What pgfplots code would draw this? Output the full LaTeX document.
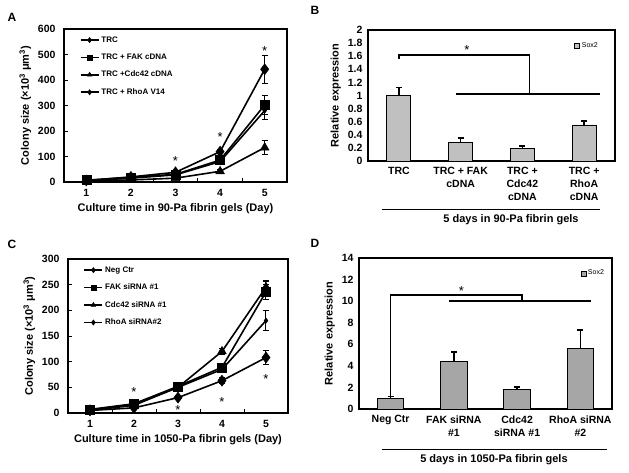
\documentclass[border=0pt]{standalone}
\usepackage{pgfplots}
\pgfplotsset{compat=1.18}
\usepackage{fontspec}
\setmainfont{Liberation Sans}
\definecolor{barB}{RGB}{192,192,192}
\definecolor{barD}{RGB}{166,166,166}
\pgfplotsset{
  base/.style={scale only axis, clip=false,
    axis line style={line width=1.2pt},
    tick label style={font=\fontsize{10.5}{13}\selectfont\bfseries},
    label style={font=\fontsize{11}{13}\selectfont\bfseries},
    /pgf/number format/assume math mode=true,
    xtick pos=bottom, ytick pos=left},
  linechart/.style={base, xmin=0.5, xmax=5.5, xtick={1,...,5},
    major x tick style={draw=none},
    minor xtick={1.5,2.5,3.5,4.5},
    tick align=inside, major tick length=4pt, minor tick length=4pt,
    tick style={line width=0.8pt, black},
    yticklabel style={xshift=-5pt}, xticklabel style={yshift=-4pt},
    legend style={draw=none, fill=none, at={(0.07,0.965)}, anchor=north west,
      font=\fontsize{8}{9}\selectfont\bfseries, row sep=6.2pt, inner sep=0pt},
    legend cell align=left,
    legend image code/.code={\draw[##1, mark=none] (0pt,0pt) -- (18pt,0pt);
      \draw[##1, mark size=2.6pt, solid] plot coordinates {(9pt,0pt)};}},
  ser/.style={black, line width=1.6pt, mark options={fill=black, solid, line width=0.5pt},
    error bars/y dir=both, error bars/y explicit,
    error bars/error bar style={line width=1pt},
    error bars/error mark options={rotate=90, mark size=3pt, line width=1.2pt}},
  barchart/.style={base, ybar, xmin=-0.5, xmax=3.5, xtick={0,1,2,3},
    axis line style={line width=1.6pt},
    major tick length=0pt, ymin=0,
    xticklabel style={align=center, yshift=-3pt},
    yticklabel style={xshift=-2pt},
    legend style={draw=none, fill=none, font=\fontsize{7}{8}\selectfont, inner sep=0pt},
    legend image code/.code={\draw[##1, draw=black, line width=0.4pt] (0pt,-2.5pt) rectangle (5pt,2.5pt);}},
  bars/.style={draw=black, line width=0.8pt,
    error bars/y dir=plus, error bars/y explicit,
    error bars/error bar style={line width=1.6pt},
    error bars/error mark options={rotate=90, mark size=3pt, line width=1.6pt}},
}
\begin{document}
\begin{tikzpicture}[x=1pt,y=1pt]
\path[use as bounding box] (0,0) rectangle (629,-472);
\node[font=\fontsize{12}{14}\selectfont\bfseries] at (12,-17) {A};
\node[font=\fontsize{12}{14}\selectfont\bfseries] at (315,-10) {B};
\node[font=\fontsize{12}{14}\selectfont\bfseries] at (12,-244) {C};
\node[font=\fontsize{12}{14}\selectfont\bfseries] at (315,-243) {D};

% Panel A
\begin{axis}[linechart, at={(64pt,-29pt)}, anchor=north west, width=223pt, height=153pt,
  ymin=0, ymax=600, ytick={0,100,...,600},
  xlabel={Culture time in 90-Pa fibrin gels (Day)},
  ylabel={Colony size (×10\textsuperscript{3} μm\textsuperscript{3})}]
\addplot[ser, mark=diamond*, mark size=2.6pt] table[x=x,y=y,y error=e] {
x y e
1 5 2
2 15 3
3 28 5
4 80 8
5 280 36
};
\addlegendentry{TRC}
\addplot[ser, mark=square*, mark size=4.5pt] table[x=x,y=y,y error=e] {
x y e
1 7 2
2 18 3
3 30 5
4 86 10
5 302 38
};
\addlegendentry{TRC + FAK cDNA}
\addplot[ser, mark=triangle*, mark size=5pt] table[x=x,y=y,y error=e] {
x y e
1 4 1
2 8 2
3 15 3
4 42 6
5 135 27
};
\addlegendentry{TRC +Cdc42 cDNA}
\addplot[ser, mark=diamond*, mark size=5.5pt] table[x=x,y=y,y error=e] {
x y e
1 6 2
2 20 3
3 38 5
4 119 8
5 442 55
};
\addlegendentry{TRC + RhoA V14}
\node[font=\fontsize{13}{14}\selectfont] at (axis cs:3,82) {*};
\node[font=\fontsize{13}{14}\selectfont] at (axis cs:4,176) {*};
\node[font=\fontsize{13}{14}\selectfont] at (axis cs:5,514) {*};
\end{axis}

% Panel B
\begin{axis}[barchart, at={(368pt,-30pt)}, anchor=north west, width=247pt, height=131pt,
  ymax=2, ytick={0,0.2,...,2.01},
  yticklabel={\pgfmathprintnumber[fixed,precision=1]{\tick}},
  xticklabels={TRC, {TRC + FAK\\cDNA}, {TRC +\\Cdc42\\cDNA}, {TRC +\\RhoA\\cDNA}},
  ylabel={Relative expression},
  legend style={at={(0.835,0.878)}, anchor=west}]
\addplot[bars, fill=barB, bar width=24pt] table[x=x,y=y,y error=e] {
x y e
0 1.00 0.12
1 0.28 0.07
2 0.19 0.04
3 0.55 0.06
};
\addlegendentry{Sox2}
\draw[line width=1.4pt] (axis cs:0,1.56) -- (axis cs:0,1.62) -- (axis cs:2.12,1.62) -- (axis cs:2.12,1.02);
\draw[line width=1.4pt] (axis cs:0.92,1.02) -- (axis cs:3.26,1.02);
\node[font=\fontsize{13}{14}\selectfont] at (axis cs:1.1,1.70) {*};
\end{axis}
\draw[line width=1pt] (381.7,-209) -- (600,-209);
\node[font=\fontsize{11}{13}\selectfont\bfseries] at (511,-220) {5 days in 90-Pa fibrin gels};

% Panel C
\begin{axis}[linechart, at={(68pt,-259pt)}, anchor=north west, width=220pt, height=154pt,
  ymin=0, ymax=300, ytick={0,50,...,300},
  xlabel={Culture time in 1050-Pa fibrin gels (Day)},
  ylabel={Colony size (×10\textsuperscript{3} μm\textsuperscript{3})}]
\addplot[ser, mark=diamond*, mark size=2.6pt] table[x=x,y=y,y error=e] {
x y e
1 5 1
2 15 2
3 50 3
4 85 6
5 180 19
};
\addlegendentry{Neg Ctr}
\addplot[ser, mark=square*, mark size=4.5pt] table[x=x,y=y,y error=e] {
x y e
1 7 1
2 18 2
3 52 3
4 89 7
5 236 15
};
\addlegendentry{FAK siRNA \#1}
\addplot[ser, mark=triangle*, mark size=5pt] table[x=x,y=y,y error=e] {
x y e
1 6 1
2 17 2
3 50 3
4 120 6
5 245 12
};
\addlegendentry{Cdc42 siRNA \#1}
\addplot[ser, mark=diamond*, mark size=5.5pt] table[x=x,y=y,y error=e] {
x y e
1 5 1
2 10 2
3 30 3
4 63 6
5 108 14
};
\addlegendentry{RhoA siRNA\#2}
\node[font=\fontsize{13}{14}\selectfont] at (axis cs:2,41) {*};
\node[font=\fontsize{13}{14}\selectfont] at (axis cs:3,6) {*};
\node[font=\fontsize{13}{14}\selectfont] at (axis cs:4,21) {*};
\node[font=\fontsize{13}{14}\selectfont] at (axis cs:5,66) {*};
\end{axis}

% Panel D
\begin{axis}[barchart, at={(359pt,-258pt)}, anchor=north west, width=253pt, height=151pt,
  ymax=14, ytick={0,2,...,14},
  xticklabels={Neg Ctr, {FAK siRNA\\\#1}, {Cdc42\\siRNA \#1}, {RhoA siRNA\\\#2}},
  ylabel={Relative expression},
  legend style={at={(0.875,0.899)}, anchor=west}]
\addplot[bars, fill=barD, bar width=26.5pt] table[x=x,y=y,y error=e] {
x y e
0 1.00 0.15
1 4.45 0.85
2 1.80 0.25
3 5.60 1.70
};
\addlegendentry{Sox2}
\draw[line width=1.4pt] (axis cs:0,1.2) -- (axis cs:0,10.57) -- (axis cs:2.08,10.57) -- (axis cs:2.08,10.0);
\draw[line width=1.4pt] (axis cs:0.93,10.0) -- (axis cs:3.17,10.0);
\node[font=\fontsize{13}{14}\selectfont] at (axis cs:1.12,10.9) {*};
\end{axis}
\draw[line width=1pt] (381.7,-449) -- (606.7,-449);
\node[font=\fontsize{11}{13}\selectfont\bfseries] at (494,-460) {5 days in 1050-Pa fibrin gels};
\end{tikzpicture}
\end{document}
